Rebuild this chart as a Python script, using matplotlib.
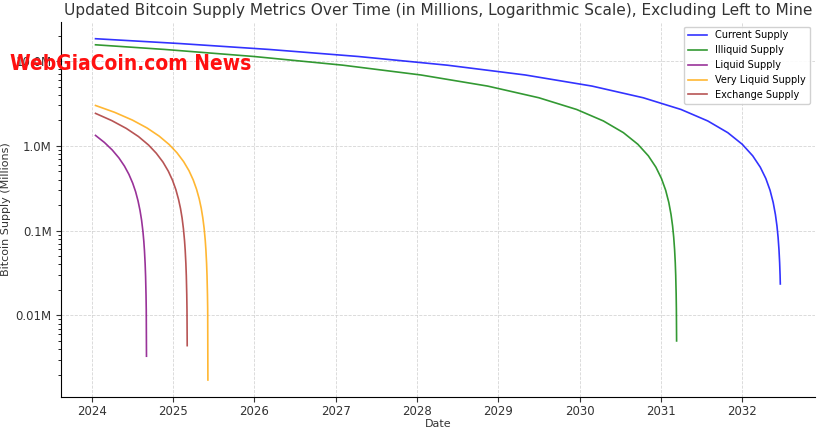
import pandas as pd
import matplotlib
matplotlib.use('Agg')
from matplotlib import pyplot as plt
from matplotlib.ticker import FuncFormatter

# %%
# valores (milhoes de BTC), x em dias desde 2024-01-18
data_inicial = pd.Timestamp('2024-01-18')

current_days = [0, 381, 781, 1181, 1581, 1931, 2231, 2461, 2631, 2751, 2841, 2906, 2953, 2987,
                3012, 3031, 3045, 3055, 3062, 3067, 3071, 3074, 3076, 3077]
current_supply = [18.4, 16.12, 13.74, 11.35, 8.96, 6.87, 5.08, 3.70, 2.69, 1.97, 1.433, 1.045, 0.764,
                  0.561, 0.412, 0.299, 0.215, 0.155, 0.1135, 0.0836, 0.0597, 0.0418, 0.0299, 0.0235]

illiquid_days = [0, 312, 712, 1112, 1462, 1762, 1992, 2162, 2282, 2372, 2437, 2484, 2518, 2543,
                 2562, 2576, 2586, 2593, 2598, 2602, 2605, 2607, 2609, 2610, 2611]
illiquid_supply = [15.6, 13.74, 11.35, 8.96, 6.87, 5.08, 3.70, 2.69, 1.97, 1.433, 1.045, 0.764, 0.561,
                   0.412, 0.299, 0.215, 0.155, 0.1135, 0.0836, 0.0597, 0.0418, 0.0299, 0.0179, 0.0119, 0.005]

liquid_days = [0, 40, 75, 105, 130, 150, 167, 180, 191, 200, 207, 213, 217, 220, 223, 225, 227, 228, 229]
liquid_supply = [1.33, 1.098, 0.896, 0.7225, 0.578, 0.462, 0.364, 0.289, 0.225, 0.173, 0.133, 0.0983,
                 0.0751, 0.0578, 0.0405, 0.0289, 0.0173, 0.0116, 0.0033]

very_liquid_days = [0, 86, 166, 231, 286, 331, 366, 396, 420, 439, 454, 466, 475, 482, 488, 493,
                    496, 499, 501, 503, 504, 505]
very_liquid_supply = [3.0, 2.49, 2.016, 1.631, 1.305, 1.038, 0.830, 0.652, 0.510, 0.397, 0.308, 0.237,
                      0.184, 0.142, 0.107, 0.0771, 0.0593, 0.0415, 0.0297, 0.0178, 0.0119, 0.00173]

exchange_days = [0, 73, 138, 193, 238, 273, 303, 327, 346, 361, 373, 382, 389, 395, 400, 403, 406,
                 408, 410, 411, 412]
exchange_supply = [2.42, 1.99, 1.61, 1.29, 1.026, 0.820, 0.645, 0.504, 0.393, 0.305, 0.234, 0.182,
                   0.141, 0.1055, 0.0762, 0.0586, 0.041, 0.0293, 0.0176, 0.0117, 0.0044]

# %%
series = [
    ('Current Supply', current_days, current_supply, 'blue'),
    ('Illiquid Supply', illiquid_days, illiquid_supply, 'green'),
    ('Liquid Supply', liquid_days, liquid_supply, 'purple'),
    ('Very Liquid Supply', very_liquid_days, very_liquid_supply, 'orange'),
    ('Exchange Supply', exchange_days, exchange_supply, 'brown'),
]

fig, ax = plt.subplots(figsize=(8.17, 4.33), dpi=100)

for nome, dias, valores, cor in series:
    datas = data_inicial + pd.to_timedelta(dias, unit='D')
    ax.plot(datas, valores, label=nome, color=cor, alpha=0.8, linewidth=1.2)

ax.set_yscale('log')
ax.yaxis.set_major_formatter(FuncFormatter(lambda v, pos: f'{v}M'))

ax.set_title('Updated Bitcoin Supply Metrics Over Time (in Millions, Logarithmic Scale), Excluding Left to Mine',
             fontsize=11.1, color='#333333', pad=5)
ax.set_xlabel('Date', fontsize=8, color='#333333', labelpad=1)
ax.set_ylabel('Bitcoin Supply (Millions)', fontsize=8, color='#333333', labelpad=3)
ax.tick_params(labelsize=8.5, colors='#333333')
ax.tick_params(axis='x', pad=2)

ax.grid(True, which='major', linestyle='--', linewidth=0.6, color='#cccccc', alpha=0.8)
ax.spines['top'].set_visible(False)
ax.spines['right'].set_visible(False)

leg = ax.legend(loc='upper right', fontsize=7, framealpha=0.9)

# marca d'agua
fig.text(0.012, 0.83, 'WebGiaCoin.com News', color='#ff1010', fontsize=15, fontweight='heavy',
         family='DejaVu Sans', stretch='condensed', va='bottom')

plt.subplots_adjust(left=0.075, right=0.997, top=0.95, bottom=0.083)
plt.savefig('out.png', dpi=100)
